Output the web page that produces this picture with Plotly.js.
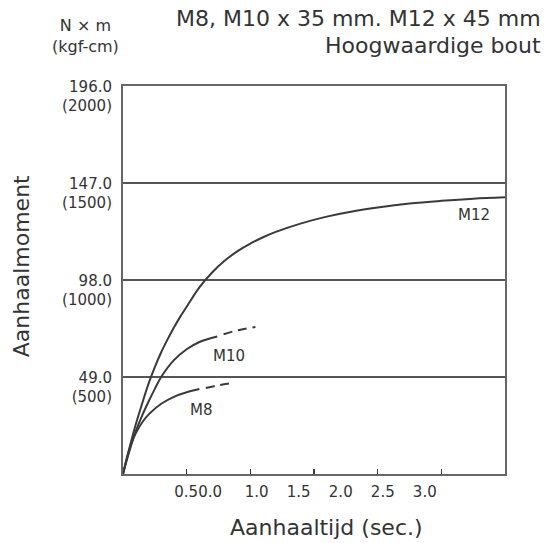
<!DOCTYPE html>
<html>
<head>
<meta charset="utf-8">
<script src="https://cdn.plot.ly/plotly-3.0.1.min.js"></script>
<style>
  html, body { margin: 0; padding: 0; background: #fff; }
  #chart { width: 548px; height: 543px; }
</style>
</head>
<body>
<div id="chart"></div>
<script>
// tightening torque (N x m) against tightening time (sec.)
const m12Time   = [0, 0.05, 0.1, 0.15, 0.2, 0.25, 0.3, 0.35, 0.4, 0.45, 0.5, 0.6, 0.7, 0.8, 0.9, 1.0, 1.1, 1.2, 1.4, 1.6, 1.8, 2.0, 2.25, 2.5, 2.75, 3.0];
const m12Torque = [0, 13, 25, 35.5, 45.5, 54, 61.5, 68, 74, 79.5, 84.5, 94.3, 101.8, 107.8, 112.6, 116.4, 119.6, 122.3, 126.6, 130, 132.6, 134.6, 136.6, 138, 139.1, 139.8];

const m10Time      = [0, 0.05, 0.1, 0.15, 0.2, 0.25, 0.3, 0.4, 0.5, 0.6, 0.74];
const m10Torque    = [0, 11.5, 21.5, 29.5, 36.5, 43, 49, 57.5, 63, 66.7, 69.5];
const m10ExtTime   = [0.79, 0.9, 1.04];
const m10ExtTorque = [70.6, 72.6, 74.3];

const m8Time      = [0, 0.03, 0.06, 0.1, 0.15, 0.2, 0.3, 0.4, 0.5, 0.6];
const m8Torque    = [0, 8, 14.5, 20.5, 26, 30, 35.5, 39, 41.3, 42.9];
const m8ExtTime   = [0.65, 0.75, 0.88];
const m8ExtTorque = [43.4, 44.8, 46.2];

const yTicks    = [49, 98, 147, 196];
const yTickText = ['49.0<br>(500)', '98.0<br>(1000)', '147.0<br>(1500)', '196.0<br>(2000)'];
const xTicks    = [0.5, 1.0, 1.5, 2.0, 2.5];
const xLabelPos  = [0.59, 1.05, 1.38, 1.71, 2.04, 2.37];
const xLabelText = ['0.50.0', '1.0', '1.5', '2.0', '2.5', '3.0'];

const ink = '#3a3a3a';
const txt = '#333';
const font = 'DejaVu Sans, Liberation Sans, sans-serif';

function curve(x, y, dash) {
  return { x: x, y: y, type: 'scatter', mode: 'lines', hoverinfo: 'skip',
           line: { color: ink, width: 2, shape: 'spline', smoothing: 1, dash: dash || 'solid' } };
}

const traces = [
  curve(m12Time, m12Torque),
  curve(m10Time, m10Torque),
  curve(m10ExtTime, m10ExtTorque, '9px,6px'),
  curve(m8Time, m8Torque),
  curve(m8ExtTime, m8ExtTorque, '9px,6px'),
  // carrier for the bottom label row
  { x: [0, 3], y: [0, 0], xaxis: 'x2', yaxis: 'y', type: 'scatter', mode: 'lines',
    line: { width: 0 }, hoverinfo: 'skip' }
];

const layout = {
  width: 548, height: 543,
  margin: { l: 123, r: 43, t: 86, b: 69 },
  paper_bgcolor: '#fff', plot_bgcolor: '#fff',
  showlegend: false,
  font: { family: font, color: txt },
  xaxis: {
    range: [0, 3], tickvals: xTicks, showticklabels: false,
    ticks: 'inside', ticklen: 5, tickwidth: 1.5, tickcolor: ink,
    showgrid: false, zeroline: false,
    showline: true, mirror: true, linecolor: '#666', linewidth: 2
  },
  xaxis2: {
    range: [0, 3], overlaying: 'x', anchor: 'y', side: 'bottom',
    tickvals: xLabelPos, ticktext: xLabelText, ticks: '', ticklen: 0,
    ticklabelstandoff: 7,
    showgrid: false, zeroline: false, showline: false,
    tickfont: { size: 15, color: txt, family: font }
  },
  yaxis: {
    range: [0, 196], tickvals: yTicks, ticktext: yTickText,
    ticks: '', showgrid: true, gridcolor: '#555', gridwidth: 1.5,
    ticklabelstandoff: 6, ticklabelshift: 10,
    zeroline: false, showline: true, mirror: true, linecolor: '#666', linewidth: 2,
    tickfont: { size: 15, color: txt, family: font }
  },
  annotations: [
    { text: 'M8, M10 x 35 mm. M12 x 45 mm', xref: 'paper', yref: 'paper',
      x: 1.1, y: 1.175, xanchor: 'right', yanchor: 'middle', showarrow: false,
      font: { size: 22, color: txt } },
    { text: 'Hoogwaardige bout', xref: 'paper', yref: 'paper',
      x: 1.1, y: 1.105, xanchor: 'right', yanchor: 'middle', showarrow: false,
      font: { size: 22, color: txt } },
    { text: 'N \u00d7 m<br>(kgf-cm)', xref: 'paper', yref: 'paper',
      x: -0.097, y: 1.13, xanchor: 'center', yanchor: 'middle', showarrow: false,
      font: { size: 16, color: txt } },
    { text: 'Aanhaalmoment', xref: 'paper', yref: 'paper', textangle: -90,
      x: -0.265, y: 0.535, xanchor: 'center', yanchor: 'middle', showarrow: false,
      font: { size: 22, color: txt } },
    { text: 'Aanhaaltijd (sec.)', xref: 'paper', yref: 'paper',
      x: 0.534, y: -0.139, xanchor: 'center', yanchor: 'middle', showarrow: false,
      font: { size: 22, color: txt } },
    { text: 'M12', x: 2.76, y: 131, showarrow: false, font: { size: 15, color: txt } },
    { text: 'M10', x: 0.83, y: 59.5, showarrow: false, font: { size: 15, color: txt } },
    { text: 'M8', x: 0.62, y: 32.5, showarrow: false, font: { size: 15, color: txt } }
  ]
};

Plotly.newPlot('chart', traces, layout, { staticPlot: true });
</script>
</body>
</html>
